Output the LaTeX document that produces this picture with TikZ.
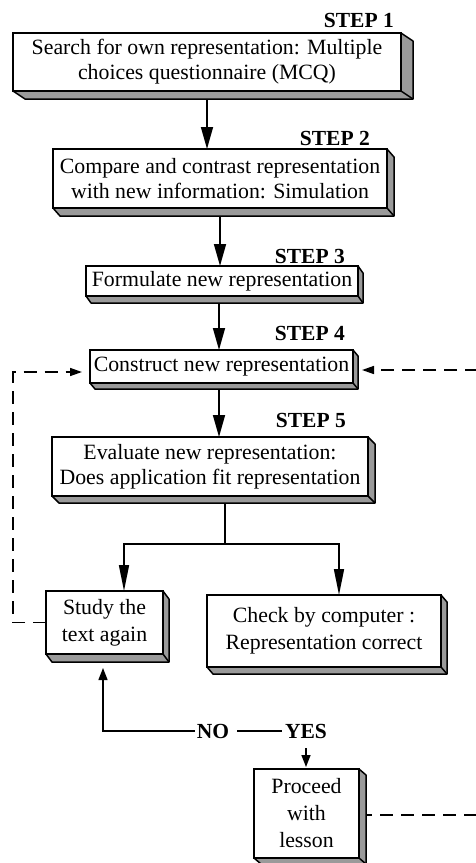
\documentclass[tikz,border=0pt]{standalone}
\usepackage{fontspec}
\setmainfont{Liberation Serif}
\usetikzlibrary{arrows.meta,calc,backgrounds}
\definecolor{sidegray}{HTML}{9A9A9A}
\tikzset{
  card/.style={draw, fill=white, line width=1.5pt, align=center, inner sep=0pt,
    outer sep=0pt, font=\fontsize{21.8}{25}\selectfont},
  tallcard/.style={card, font=\fontsize{21.8}{27}\selectfont},
  steplabel/.style={anchor=base east, inner sep=0pt, font=\fontsize{21.5}{25}\selectfont\bfseries},
  answer/.style={inner sep=0pt, font=\fontsize{21.5}{25}\selectfont\bfseries},
  side/.style={draw, fill=sidegray, line width=1.5pt, line join=round},
  plainline/.style={line width=1.6pt},
  flow/.style={plainline, -{Triangle[length=22pt,width=12pt]}},
  branch/.style={plainline, -{Triangle[length=26pt,width=10pt]}},
  smallflow/.style={line width=1.4pt, -{Triangle[length=12pt,width=9pt]}},
  loopback/.style={line width=1.5pt, dash pattern=on 13pt off 8pt,
    -{Triangle[length=12pt,width=8pt]}}
}
% extruded side faces of a card: #1 node, #2 depth right, #3 depth down
\newcommand\depthbox[3]{%
  \filldraw[side] (#1.north east) -- ++(#2,#3) -- ($(#1.south east)+(#2,#3)$)
    -- ($(#1.south west)+(#2,#3)$) -- (#1.south west) -- (#1.south east) -- cycle;
  \draw[side, fill=none] (#1.south east) -- ++(#2,#3);
}
\begin{document}
\begin{tikzpicture}[x=1pt,y=-1pt]
\useasboundingbox (0,0) rectangle (476,863);

% step boxes
\node[card, minimum width=388pt, minimum height=58pt] (s1) at (207,62)
  {Search for own representation: Multiple\\choices questionnaire (MCQ)};
\depthbox{s1}{12}{8}
\node[card, minimum width=334pt, minimum height=59pt] (s2) at (220,178.5)
  {Compare and contrast representation\\with new information: Simulation};
\depthbox{s2}{7}{8}
\node[card, minimum width=272pt, minimum height=30pt] (s3) at (222,281)
  {Formulate new representation};
\depthbox{s3}{5}{7}
\node[card, minimum width=263pt, minimum height=33pt] (s4) at (221.5,366.5)
  {Construct new representation};
\depthbox{s4}{5}{6}
\node[card, minimum width=316pt, minimum height=59pt] (s5) at (210,466.5)
  {Evaluate new representation:\\Does application fit representation};
\depthbox{s5}{7}{7}
\node[tallcard, minimum width=117pt, minimum height=63pt] (s6) at (104.5,622.5)
  {Study the\\text again};
\depthbox{s6}{6}{8}
\node[tallcard, minimum width=234pt, minimum height=72pt] (s7) at (324,631)
  {Check by computer :\\Representation correct};
\depthbox{s7}{6}{7}
\node[tallcard, minimum width=105pt, minimum height=89pt] (s8) at (306.5,813.5)
  {Proceed\\with\\lesson};
\depthbox{s8}{7}{6}

% step labels
\node[steplabel] (t1) at (394,27) {STEP 1};
\node[steplabel] (t2) at (370,145) {STEP 2};
\node[steplabel] (t3) at (345,263) {STEP 3};
\node[steplabel] (t4) at (345,340) {STEP 4};
\node[steplabel] (t5) at (346,427) {STEP 5};

% decision labels
\node[answer] (no) at (213,731) {NO};
\node[answer] (yes) at (306,731) {YES};

% connectors
\begin{pgfonlayer}{background}
\clip (0,0) rectangle (476,863);
\draw[flow] (s1.south) -- (s1.south |- s2.north);
\draw[flow] (s2.south) -- (s2.south |- s3.north);
\draw[flow] ([xshift=-3pt]s3.south) -- ([xshift=-3pt]s3.south |- s4.north);
\draw[flow] ([xshift=-2.5pt]s4.south) -- ([xshift=-2.5pt]s4.south |- s5.north);

\coordinate (fork) at (225,544);
\draw[plainline] ([xshift=15pt]s5.south) -- (fork);
\draw[branch] (fork) -| ([xshift=19.5pt]s6.north);
\draw[branch] (fork) -| ([xshift=15pt]s7.north);

\coordinate (backleft) at (13,372);
\draw[loopback, shorten >=8pt] (s6.west) -| (backleft) -- (backleft -| s4.west);
\coordinate (backright) at (490,370);
\draw[loopback, shorten >=9pt] ([yshift=-1.5pt]s8.east) -| (backright) -- (backright -| s4.east);

\draw[smallflow, shorten <=2pt, shorten >=14pt] (no.west) -| ([xshift=-1.5pt]s6.south);
\draw[plainline, line width=1.4pt] ([xshift=8pt]no.east) -- ([xshift=-3pt]yes.west);
\draw[smallflow, shorten <=10pt, shorten >=2pt] (yes.south) -- (yes.south |- s8.north);
\end{pgfonlayer}
\end{tikzpicture}
\end{document}
